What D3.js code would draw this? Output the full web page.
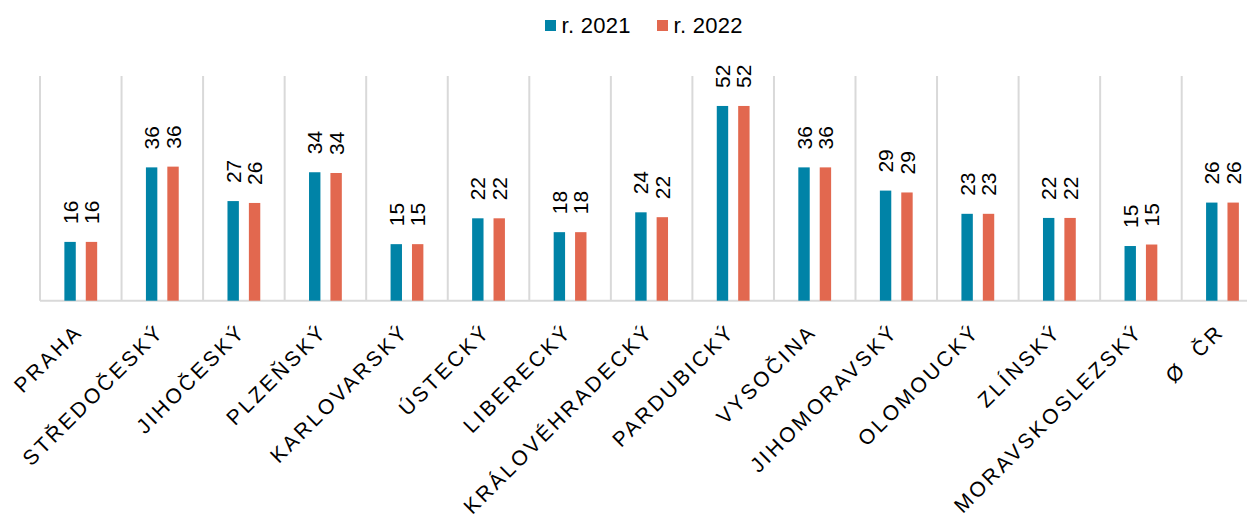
<!DOCTYPE html>
<html><head><meta charset="utf-8">
<script src="https://cdn.jsdelivr.net/npm/d3@7"></script>
<style>body{margin:0;background:#fff}svg{display:block;font-family:"Liberation Sans",Arial,sans-serif}</style>
</head><body><svg id="c" width="1247" height="518"></svg>
<script>
const categories = ["PRAHA","STŘEDOČESKÝ","JIHOČESKÝ","PLZEŇSKÝ","KARLOVARSKÝ","ÚSTECKÝ","LIBERECKÝ","KRÁLOVÉHRADECKÝ","PARDUBICKÝ","VYSOČINA","JIHOMORAVSKÝ","OLOMOUCKÝ","ZLÍNSKÝ","MORAVSKOSLEZSKÝ","Ø  ČR"];
const seriesNames = ["r. 2021","r. 2022"];
const values2021 = [15.7,35.6,26.6,34.3,15.1,22.0,18.3,23.6,52.0,35.6,29.4,23.2,22.1,14.6,26.2];
const values2022 = [15.7,35.8,26.1,34.1,15.1,22.0,18.3,22.3,52.0,35.6,28.9,23.2,22.1,15.0,26.2];
const colors = ["#0083A7","#E2684F"];
const yMax = 60;

const svg = d3.select("#c");
const left = 40, step = 81.55;
const x = d3.scaleBand().domain(categories).range([left, left + step*categories.length]).padding(0);
const y = d3.scaleLinear().domain([0, yMax]).range([300.7, 76]);
const barW = 11.4, gap = 10;
const offs = [-(gap/2 + barW), gap/2];

// grid lines
const grid = svg.append("g");
categories.forEach((c,i)=>{
  grid.append("line").attr("x1", x(c)).attr("x2", x(c)).attr("y1", y(yMax)).attr("y2", y(0))
    .attr("stroke","#D9D9D9").attr("stroke-width",2);
});
// axis
const axis = d3.axisBottom(x).tickSize(0).tickFormat("");
const ag = svg.append("g").attr("transform", `translate(0,${y(0)})`).call(axis);
ag.select(".domain").attr("stroke","#D9D9D9").attr("stroke-width",2).attr("d", `M${left},0H1247`);

const series = [values2021, values2022];
series.forEach((vals, s) => {
  const g = svg.append("g");
  g.selectAll("rect").data(vals).join("rect")
    .attr("x", (d,i) => x(categories[i]) + x.bandwidth()/2 + offs[s])
    .attr("width", barW)
    .attr("y", d => y(d))
    .attr("height", d => y(0) - y(d))
    .attr("fill", colors[s]);
  g.selectAll("text").data(vals).join("text")
    .attr("transform", (d,i) => `translate(${x(categories[i]) + x.bandwidth()/2 + offs[s] + barW/2},${y(d) - 18}) rotate(-90)`)
    .attr("dy","0.36em")
    .attr("font-size", 21)
    .attr("fill","#000")
    .text(d => Math.round(d));
});

// category labels
svg.append("g").selectAll("text").data(categories).join("text")
  .attr("transform", c => `translate(${x(c) + x.bandwidth()/2 + 3},333) rotate(-45)`)
  .attr("text-anchor","end")
  .attr("font-size", 21)
  .attr("letter-spacing", 2.8)
  .attr("fill","#000")
  .style("white-space","pre")
  .text(c => c);

// legend
const legX = [545, 657];
seriesNames.forEach((n,i)=>{
  svg.append("rect").attr("x", legX[i]).attr("y", 20).attr("width", 11).attr("height", 11).attr("fill", colors[i]);
  svg.append("text").attr("x", legX[i] + 16.5).attr("y", 32.5).attr("font-size", 22).attr("letter-spacing", 0.3).attr("fill","#000").text(n);
});
</script></body></html>
